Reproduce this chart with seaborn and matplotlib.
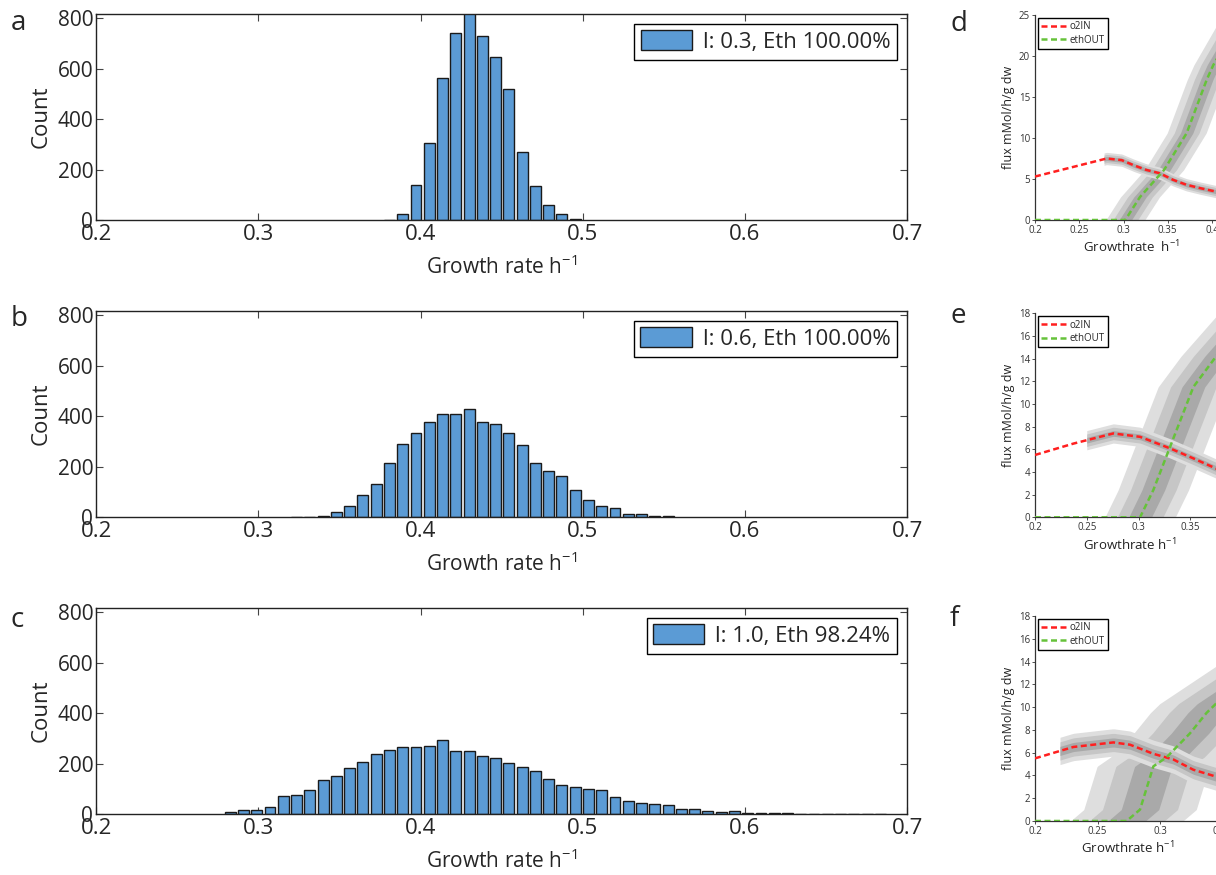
import numpy as np
import pandas as pd
import matplotlib
matplotlib.use("Agg")
import matplotlib.pyplot as plt
import seaborn as sns

# colours
BAR_BLUE = "#5B9BD5"
BAR_EDGE = "#1a1a1a"
RED = "#FF1F1F"
GREEN = "#66C23A"
BAND_GREYS = ["#dedede", "#c6c6c6", "#a9a9a9"]

sns.set_theme(style="white")
plt.rcParams["font.family"] = ["Open Sans", "DejaVu Sans"]
plt.rcParams["mathtext.fontset"] = "custom"
plt.rcParams["mathtext.rm"] = "Open Sans"
plt.rcParams["mathtext.it"] = "Open Sans:italic"

# ----------------------------------------------------------------------
# histogram data (common bin grid, counts)
# ----------------------------------------------------------------------
BIN_START = 0.2827
BIN_STEP = 0.00818

labels_hist = ["l: 0.3, Eth 100.00%", "l: 0.6, Eth 100.00%", "l: 1.0, Eth 98.24%"]
first_bin = [12, 5, 0]
counts_a = [3, 24, 139, 305, 565, 743, 840, 730, 645, 521, 270, 137, 59, 24, 5]
counts_b = [3, 0, 5, 20, 44, 90, 132, 214, 289, 333, 376, 410, 409, 428, 379,
            370, 335, 286, 215, 185, 164, 107, 70, 44, 38, 15, 13, 5, 5]
counts_c = [8, 16, 18, 28, 71, 75, 95, 135, 150, 182, 206, 238, 253, 265, 265,
            269, 294, 251, 251, 232, 224, 205, 186, 170, 139, 116, 110, 99, 95,
            70, 53, 44, 42, 36, 20, 21, 13, 9, 13, 5, 4, 4, 5, 0, 0, 0, 0, 0,
            0, 2]
hist_counts = [counts_a, counts_b, counts_c]
hist_letters = ["a", "b", "c"]

# ----------------------------------------------------------------------
# flux data (panels d, e, f)
# ----------------------------------------------------------------------
o2_x = [
    [0.2, 0.281, 0.298, 0.311, 0.326, 0.341, 0.356, 0.371, 0.386, 0.405, 0.5],
    [0.2, 0.237, 0.2757, 0.3015, 0.330, 0.353, 0.375, 0.45],
    [0.2, 0.2307, 0.2627, 0.276, 0.2947, 0.3107, 0.3267, 0.3448, 0.45],
]
o2_y = [
    [5.3, 7.5, 7.3, 6.7, 6.1, 5.7, 4.9, 4.3, 3.9, 3.45, 0.8],
    [5.5, 6.5, 7.4, 7.1, 6.1, 5.2, 4.3, 1.5],
    [5.5, 6.5, 6.9, 6.7, 5.9, 5.4, 4.5, 3.9, 1.0],
]
eth_x = [
    [0.2, 0.302, 0.3186, 0.3458, 0.3714, 0.394, 0.4015, 0.45],
    [0.2, 0.3015, 0.3143, 0.330, 0.353, 0.375, 0.45],
    [0.2, 0.2733, 0.284, 0.2947, 0.3053, 0.324, 0.3373, 0.3448, 0.45],
]
eth_y = [
    [0.0, 0.0, 2.8, 6.1, 10.6, 17.1, 18.9, 28.0],
    [0.0, 0.0, 2.4, 6.1, 11.5, 14.2, 22.0],
    [0.0, 0.0, 1.0, 4.8, 5.6, 7.7, 9.5, 10.3, 18.0],
]
o2_band_start = [0.278, 0.25, 0.22]
o2_band_half = [[0.75, 0.5, 0.25], [0.85, 0.55, 0.25], [1.2, 0.8, 0.4]]
eth_band_half = [[0.022, 0.014, 0.007], [0.034, 0.022, 0.011], [0.045, 0.03, 0.015]]
flux_ylim = [25, 18, 18]
flux_xlim = [0.7, 0.6, 0.55]
flux_yticks = [np.arange(0, 26, 5), np.arange(0, 19, 2), np.arange(0, 19, 2)]
flux_xticks = [[0.2, 0.25, 0.3, 0.35, 0.4, 0.45], [0.2, 0.25, 0.3, 0.35, 0.4],
               [0.2, 0.25, 0.3, 0.35]]
flux_xlabels = [r"Growthrate  h$^{-1}$", r"Growthrate h$^{-1}$", r"Growthrate h$^{-1}$"]
flux_letters = ["d", "e", "f"]

# ----------------------------------------------------------------------
# layout (pixel boxes in the 1216 x 875 figure)
# ----------------------------------------------------------------------
W, H = 1216, 875
fig = plt.figure(figsize=(W / 100, H / 100), dpi=100)


def box(left, top, right, bottom):
    return [left / W, 1 - bottom / H, (right - left) / W, (bottom - top) / H]


hist_boxes = [box(96.1, 13.7, 907.1, 220.3), box(96.1, 310.7, 907.1, 517.3),
              box(96.1, 607.7, 907.1, 814.3)]
letter_y = [30, 326, 627]

for i in range(3):
    ax = fig.add_axes(hist_boxes[i])
    counts = hist_counts[i]
    k0 = first_bin[i]
    df = pd.DataFrame({
        "rate": BIN_START + BIN_STEP * np.arange(k0, k0 + len(counts)),
        "n": counts,
    })
    edges = BIN_START - BIN_STEP / 2 + BIN_STEP * np.arange(k0, k0 + len(counts) + 1)
    sns.histplot(data=df, x="rate", weights="n", bins=list(edges), shrink=0.82,
                 color=BAR_BLUE, edgecolor=BAR_EDGE, linewidth=1.0, alpha=1, ax=ax,
                 label=labels_hist[i])
    ax.set_xlim(0.2, 0.7)
    ax.set_ylim(0, 818)
    ax.set_xticks([0.2, 0.3, 0.4, 0.5, 0.6, 0.7])
    ax.set_xticklabels(["0.2", "0.3", "0.4", "0.5", "0.6", "0.7"])
    ax.set_yticks([0, 200, 400, 600, 800])
    ax.tick_params(direction="in", top=True, right=True, length=5, width=0.8,
                   color="#444444", bottom=True, left=True)
    ax.tick_params(axis="x", labelsize=16, pad=3)
    ax.tick_params(axis="y", labelsize=15, pad=2)
    for sp in ax.spines.values():
        sp.set_color("#222222")
        sp.set_linewidth(1.0)
    ax.set_ylabel("Count", fontsize=16, labelpad=4)
    ax.set_xlabel(r"Growth rate h$^{-1}$", fontsize=15, labelpad=7)
    leg = ax.legend(loc="upper right", fontsize=16, fancybox=False, edgecolor="black",
                    framealpha=1, handlelength=2.3, handleheight=1.0, borderaxespad=0.45,
                    handletextpad=0.5, borderpad=0.3)
    leg.get_frame().set_linewidth(1.0)
    fig.text(11 / W, 1 - letter_y[i] / H, hist_letters[i], fontsize=20, va="baseline")

flux_boxes = [box(1035, 15, 1035 + 0.5 * 885, 220), box(1035, 313.3, 1035 + 0.4 * 1035, 517.3),
              box(1035, 616, 1035 + 0.35 * 1250, 821)]
flux_label_x = [1131, 1130, 1128]
flux_letter_y = [31, 323, 626]

for i in range(3):
    ax = fig.add_axes(flux_boxes[i])
    # grey bands around ethOUT (offset horizontally)
    yy = np.linspace(0, flux_ylim[i] + 5, 300)
    ex = np.array(eth_x[i])
    ey = np.array(eth_y[i])
    rising = ey > 0
    rx = np.concatenate([[ex[~rising][-1]], ex[rising]])
    ry = np.concatenate([[0.0], ey[rising]])
    xc = np.interp(yy, ry, rx)
    for g, w in zip(BAND_GREYS, eth_band_half[i]):
        ax.fill_betweenx(yy, xc - w, xc + w, color=g, linewidth=0, zorder=1)
    # grey bands around o2IN
    xx = np.linspace(o2_band_start[i], 0.7, 300)
    oy = np.interp(xx, o2_x[i], o2_y[i])
    for g, w in zip(BAND_GREYS, o2_band_half[i]):
        ax.fill_between(xx, oy - w, oy + w, color=g, linewidth=0, zorder=1)

    sns.lineplot(x=o2_x[i], y=o2_y[i], ax=ax, color=RED, linewidth=1.8,
                 label="o2IN", zorder=3)
    sns.lineplot(x=eth_x[i], y=eth_y[i], ax=ax, color=GREEN, linewidth=1.8,
                 label="ethOUT", zorder=3)
    for ln in ax.get_lines():
        ln.set_dashes((2.4, 1.4))
    ax.set_xlim(0.2, flux_xlim[i])
    ax.set_ylim(0, flux_ylim[i])
    ax.set_xticks(flux_xticks[i])
    ax.set_xticklabels([f"{t:g}" for t in flux_xticks[i]])
    ax.set_yticks(flux_yticks[i])
    ax.tick_params(direction="out", length=2.5, width=0.6, color="#333333",
                   labelsize=7, labelcolor="#333333", pad=1, bottom=True, left=True)
    for s in ["top", "right"]:
        ax.spines[s].set_visible(False)
    for s in ["left", "bottom"]:
        ax.spines[s].set_color("#333333")
        ax.spines[s].set_linewidth(0.9)
    ax.set_ylabel("flux mMol/h/g dw", fontsize=9, color="#222222", labelpad=3)
    ax.set_xlabel(flux_xlabels[i], fontsize=9.5, color="#222222")
    ax_w = flux_boxes[i][2] * W
    ax_h = flux_boxes[i][3] * H
    ax.xaxis.set_label_coords((flux_label_x[i] - 1035) / ax_w, -19 / ax_h)
    leg = ax.legend(loc="upper left", fontsize=7, fancybox=False, edgecolor="black",
                    framealpha=1, handlelength=2.6, borderaxespad=0.3,
                    borderpad=0.35, labelspacing=0.25, handletextpad=0.3)
    leg.get_frame().set_linewidth(1.0)
    for hl in leg.get_lines():
        hl.set_dashes((2.4, 1.4))
    fig.text(950 / W, 1 - flux_letter_y[i] / H, flux_letters[i], fontsize=20, va="baseline")

plt.savefig("out.png", dpi=100)
plt.close()
